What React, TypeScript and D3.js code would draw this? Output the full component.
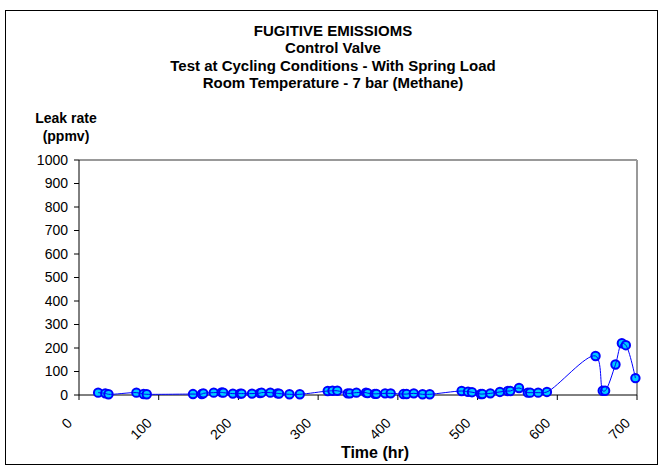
import React from "react";
import * as d3 from "d3";

const titleLines = [
  "FUGITIVE EMISSIOMS",
  "Control Valve",
  "Test at Cycling Conditions - With Spring Load",
  "Room Temperature - 7 bar (Methane)",
];
const yLabelLines = ["Leak rate", "(ppmv)"];
const xLabel = "Time (hr)";
const xTicks = [0, 100, 200, 300, 400, 500, 600, 700];
const yTicks = [0, 100, 200, 300, 400, 500, 600, 700, 800, 900, 1000];

const timeHr = [
  24, 33, 37, 72, 81, 85, 143, 154, 156, 169, 179, 181, 193, 202, 204, 217, 227, 229, 240, 249, 251, 264, 277,
  312, 318, 324, 337, 340, 348, 360, 362, 371, 373, 384, 391, 407, 411, 420, 431, 440,
  480, 488, 493, 504, 506, 516, 528, 538, 541, 552, 563, 566, 576, 587,
  648, 657, 660, 673, 681, 686, 698,
];
const leakPpmv = [
  10, 7, 3, 10, 4, 3, 4, 4, 7, 10, 11, 10, 6, 6, 6, 6, 8, 10, 10, 7, 6, 3, 3,
  17, 18, 18, 7, 7, 10, 10, 8, 5, 5, 7, 7, 4, 4, 7, 3, 3,
  17, 14, 12, 4, 4, 7, 13, 17, 17, 30, 10, 10, 10, 13,
  166, 18, 18, 130, 220, 212, 72,
];

export default function App() {
  const W = 662;
  const H = 466;
  const left = 79;
  const right = 637;
  const top = 160;
  const bottom = 395;
  const x = d3.scaleLinear().domain([0, 700]).range([left, right]);
  const y = d3.scaleLinear().domain([0, 1000]).range([bottom, top]);
  const pts: [number, number][] = timeHr.map((t, i) => [t, leakPpmv[i]]);
  const line = d3
    .line<[number, number]>()
    .x((d) => x(d[0]))
    .y((d) => y(d[1]))
    .curve(d3.curveCatmullRom.alpha(0.5));
  const font = "Liberation Sans, Arial, sans-serif";
  return (
    <svg
      width={W}
      height={H}
      style={{ position: "absolute", left: 0, top: 0, fontFamily: font }}
    >
      <rect x={0} y={0} width={W} height={H} fill="#fff" />
      <rect x={5.5} y={10.5} width={652} height={454} fill="#fff" stroke="#000" strokeWidth={1} />
      {titleLines.map((s, i) => (
        <text
          key={s}
          x={333}
          y={35.5 + i * 17.5}
          textAnchor="middle"
          fontSize={15}
          fontWeight="bold"
        >
          {s}
        </text>
      ))}
      {yLabelLines.map((s, i) => (
        <text key={s} x={66} y={123} textAnchor="middle" fontSize={14} fontWeight="bold" dy={i * 18}>
          {s}
        </text>
      ))}
      {/* plot frame top & right */}
      <line x1={left} x2={right} y1={top} y2={top} stroke="#999" strokeWidth={2} />
      <line x1={right} x2={right} y1={top} y2={bottom} stroke="#999" strokeWidth={2} />
      {/* axes */}
      <line x1={left} x2={left} y1={top} y2={bottom} stroke="#000" strokeWidth={1} />
      <line x1={left} x2={right} y1={bottom} y2={bottom} stroke="#000" strokeWidth={1} />
      {yTicks.map((v) => (
        <g key={v}>
          <line x1={left - 5} x2={left} y1={y(v)} y2={y(v)} stroke="#000" />
          <text x={68} y={y(v)} dy="0.35em" textAnchor="end" fontSize={14}>
            {v}
          </text>
        </g>
      ))}
      {xTicks.map((v) => (
        <g key={v}>
          <line x1={x(v)} x2={x(v)} y1={bottom} y2={bottom + 5} stroke="#000" />
          <text
            transform={`translate(${x(v) - 6},${bottom + 29}) rotate(-45)`}
            textAnchor="end"
            fontSize={14}
          >
            {v}
          </text>
        </g>
      ))}
      <text x={375} y={458} textAnchor="middle" fontSize={16} fontWeight="bold">
        {xLabel}
      </text>
      {pts.map((d, i) => (
        <circle
          key={i}
          cx={x(d[0])}
          cy={y(d[1])}
          r={4.2}
          fill="#00ccff"
          stroke="#0000ff"
          strokeWidth={2}
        />
      ))}
      <path d={line(pts) || ""} fill="none" stroke="#0000ff" strokeWidth={1} />
    </svg>
  );
}
